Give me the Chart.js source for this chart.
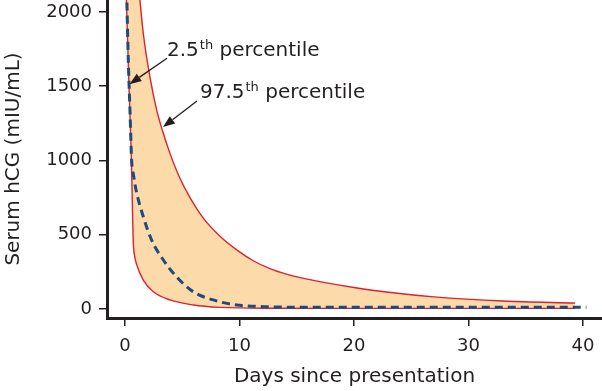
<!DOCTYPE html>
<html>
<head>
<meta charset="utf-8">
<script src="https://cdn.jsdelivr.net/npm/chart.js@4.4.0/dist/chart.umd.min.js"></script>
<style>
  html, body { margin: 0; padding: 0; background: #fff; }
  #wrap { width: 602px; height: 391px; }
</style>
</head>
<body>
<div id="wrap"><canvas id="hcg" width="602" height="391"></canvas></div>
<script>
// 97.5th percentile (upper edge of band)
const upperDays = [0.08, 1.2, 1.31, 1.6, 2.18, 2.77, 3.3, 3.93, 4.8, 5.68, 6.84, 8.3, 9.76, 11.2, 12.66, 14.1, 15.6, 17.0, 20, 23, 27, 33, 39.3];
const upperVals = [3600, 2180, 2080, 1855, 1563, 1339, 1195, 1048, 880, 750, 612, 490, 398, 325, 272, 235, 206, 184, 145, 113, 82, 54, 40];

// 2.5th percentile (lower edge of band)
const lowerDays = [0.08, 0.35, 0.55, 0.66, 0.73, 0.85, 1.02, 1.6, 2.47, 3.93, 5.97, 8.3, 12.7, 20, 39.3];
const lowerVals = [2200, 1500, 1040, 650, 442, 355, 300, 195, 116, 61, 27, 11, 5, 4, 4];

// median (dashed)
const medianDays = [0.14, 0.3, 0.44, 0.58, 0.75, 1.0, 1.6, 2.33, 3.35, 4.5, 5.97, 7.7, 9.76, 12.1, 17, 25, 40.3];
const medianVals = [2150, 1650, 1330, 1003, 900, 790, 621, 464, 330, 217, 116, 61, 27, 16, 11, 11, 11];

const xTicks = [0, 10, 20, 30, 40];
const yTicks = [0, 500, 1000, 1500, 2000];

// 注記 (data coords)
const notes = [
  { label: "2.5", sup: "th", rest: " percentile", at: [3.67, 1703], from: [3.67, 1689], to: [0.39, 1514] },
  { label: "97.5", sup: "th", rest: " percentile", at: [6.55, 1420], from: [6.29, 1400], to: [3.32, 1225] }
];

const toPts = (xs, ys) => xs.map((x, i) => ({ x: x, y: ys[i] }));

const RED = "#d9232e";
const FILL = "#fcdaaa";
const NAVY = "#1e4a7c";
const FONT = "'DejaVu Sans', sans-serif";

const notePlugin = {
  id: "notes",
  afterDatasetsDraw(chart) {
    const { ctx, scales: { x, y } } = chart;
    ctx.save();
    ctx.fillStyle = "#231f20";
    ctx.strokeStyle = "#231f20";
    ctx.lineWidth = 1.3;
    notes.forEach(n => {
      // arrow
      const x1 = x.getPixelForValue(n.from[0]), y1 = y.getPixelForValue(n.from[1]);
      const x2 = x.getPixelForValue(n.to[0]), y2 = y.getPixelForValue(n.to[1]);
      const ang = Math.atan2(y2 - y1, x2 - x1);
      const hl = 12, hw = 4.5;
      const bx = x2 - hl * Math.cos(ang), by = y2 - hl * Math.sin(ang);
      ctx.beginPath();
      ctx.moveTo(x1, y1);
      ctx.lineTo(bx, by);
      ctx.stroke();
      ctx.beginPath();
      ctx.moveTo(x2, y2);
      ctx.lineTo(bx + hw * Math.sin(ang), by - hw * Math.cos(ang));
      ctx.lineTo(bx - hw * Math.sin(ang), by + hw * Math.cos(ang));
      ctx.closePath();
      ctx.fill();
      // text
      let tx = x.getPixelForValue(n.at[0]);
      const ty = y.getPixelForValue(n.at[1]);
      ctx.textBaseline = "alphabetic";
      ctx.textAlign = "left";
      ctx.font = "20px " + FONT;
      ctx.fillText(n.label, tx, ty);
      tx += ctx.measureText(n.label).width + 1;
      ctx.font = "13px " + FONT;
      ctx.fillText(n.sup, tx, ty - 7);
      tx += ctx.measureText(n.sup).width;
      ctx.font = "20px " + FONT;
      ctx.fillText(n.rest, tx, ty);
    });
    ctx.restore();
  }
};

new Chart(document.getElementById("hcg"), {
  type: "line",
  data: {
    datasets: [
      {
        data: toPts(upperDays, upperVals),
        borderColor: RED, borderWidth: 1.4,
        backgroundColor: FILL, fill: "+1",
        pointRadius: 0, cubicInterpolationMode: "monotone", order: 2
      },
      {
        data: toPts(lowerDays, lowerVals),
        borderColor: RED, borderWidth: 1.4,
        fill: false,
        pointRadius: 0, cubicInterpolationMode: "monotone", order: 1
      },
      {
        data: toPts(medianDays, medianVals),
        borderColor: NAVY, borderWidth: 3, borderDash: [8, 5],
        fill: false,
        pointRadius: 0, cubicInterpolationMode: "monotone", order: 0
      }
    ]
  },
  options: {
    responsive: false,
    devicePixelRatio: 1,
    animation: false,
    layout: { padding: 0 },
    plugins: { legend: { display: false }, tooltip: { enabled: false } },
    scales: {
      x: {
        type: "linear",
        min: -1.57, max: 41.66,
        afterBuildTicks: s => { s.ticks = xTicks.map(v => ({ value: v })); },
        afterFit: s => { s.height = 73; s.paddingLeft = 0; s.paddingRight = 0; },
        grid: { drawOnChartArea: false, drawTicks: true, tickLength: 8, color: "#231f20", lineWidth: 1.5 },
        border: { display: true, color: "#231f20", width: 3 },
        ticks: { color: "#231f20", font: { family: FONT, size: 18 }, padding: 10, maxRotation: 0, callback: v => String(v) },
        title: { display: true, text: "Days since presentation", color: "#231f20", font: { family: FONT, size: 20 }, padding: { top: 0, bottom: 2 } }
      },
      y: {
        min: -60.6, max: 2080.8,
        afterBuildTicks: s => { s.ticks = yTicks.map(v => ({ value: v })); },
        afterFit: s => { s.width = 107; s.paddingTop = 0; s.paddingBottom = 0; },
        grid: { drawOnChartArea: false, drawTicks: true, tickLength: 8, color: "#231f20", lineWidth: 1.5 },
        border: { display: true, color: "#231f20", width: 3 },
        ticks: { color: "#231f20", font: { family: FONT, size: 18 }, padding: 7, callback: v => String(v) },
        title: { display: true, text: "Serum hCG (mIU/mL)", color: "#231f20", font: { family: FONT, size: 20 }, padding: { top: 2, bottom: 0 } }
      }
    }
  },
  plugins: [notePlugin]
});
</script>
</body>
</html>
